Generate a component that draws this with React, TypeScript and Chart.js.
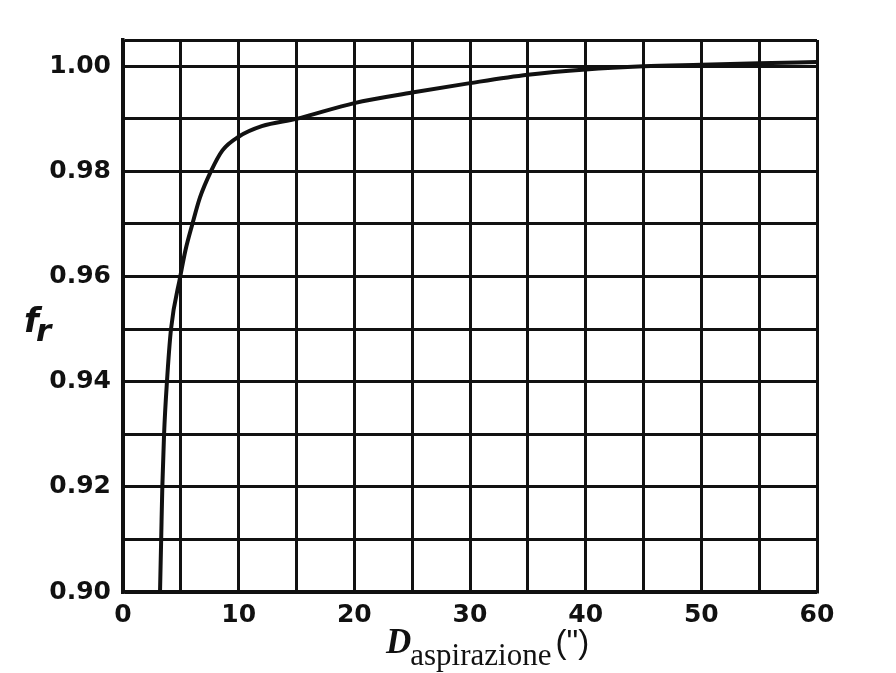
import React, { useEffect, useRef } from "react";
import { Chart, registerables } from "chart.js";

Chart.register(...registerables);

// D aspirazione (inches)
const diameterValues = [3.2, 3.3, 3.4, 3.55, 3.8, 4.15, 4.95, 5.4, 6.0, 6.65, 7.6, 8.6, 10, 12, 15, 20, 25, 30, 35, 40, 45, 50, 55, 60];
// f_r
const frValues = [0.9, 0.91, 0.92, 0.93, 0.94, 0.95, 0.96, 0.965, 0.97, 0.975, 0.98, 0.984, 0.9866, 0.9886, 0.99, 0.993, 0.995, 0.9968, 0.9984, 0.9994, 1.0, 1.0003, 1.0006, 1.0008];

const xMin = 0;
const xMax = 60;
const xStep = 5;
const xLabelEvery = 10;
const yMin = 0.9;
const yMax = 1.005;
// horizontal grid lines and the labelled ones
const yGridValues = [0.9, 0.91, 0.92, 0.93, 0.94, 0.95, 0.96, 0.97, 0.98, 0.99, 1.0, 1.005];
const yTickLabels = ["0.90", "", "0.92", "", "0.94", "", "0.96", "", "0.98", "", "1.00", ""];

const yTitleMain = "f";
const yTitleSub = "r";
const xTitleMain = "D";
const xTitleSub = "aspirazione";
const xTitleUnit = '(")';

const INK = "#111111";
const TICK_FONT = { family: '"DejaVu Sans", sans-serif', size: 25, weight: "bold" as const };

const titlePlugin = {
  id: "axisTitles",
  afterDraw(chart: any) {
    const ctx = chart.ctx as CanvasRenderingContext2D;
    const a = chart.chartArea;
    ctx.save();
    ctx.fillStyle = INK;
    ctx.textAlign = "left";
    ctx.textBaseline = "alphabetic";
    // y title: f_r
    const yMid = (a.top + a.bottom) / 2;
    ctx.font = 'italic bold 34px "DejaVu Sans"';
    ctx.fillText(yTitleMain, a.left - 99, yMid + 16);
    ctx.font = 'italic bold 31px "DejaVu Sans"';
    ctx.fillText(yTitleSub, a.left - 87, yMid + 25);
    // x title: D_aspirazione (")
    const base = a.bottom + 61;
    ctx.font = 'italic bold 35px "Liberation Serif"';
    ctx.fillText(xTitleMain, 386, base);
    const dW = ctx.measureText(xTitleMain).width;
    ctx.font = '31px "Liberation Serif"';
    ctx.fillText(xTitleSub, 386 + dW - 1, base + 12);
    const sW = ctx.measureText(xTitleSub).width;
    ctx.font = '33px "Liberation Sans"';
    ctx.fillText(xTitleUnit, 386 + dW + sW + 3, base);
    ctx.restore();
  },
};

export default function App() {
  const ref = useRef<HTMLCanvasElement | null>(null);
  useEffect(() => {
    if (!ref.current) return;
    const chart = new Chart(ref.current, {
      type: "line",
      data: {
        datasets: [
          {
            data: diameterValues.map((x, i) => ({ x, y: frValues[i] })),
            borderColor: INK,
            borderWidth: 4,
            pointRadius: 0,
            fill: false,
            cubicInterpolationMode: "monotone",
          },
        ],
      },
      options: {
        animation: false,
        responsive: false,
        layout: { padding: { top: 40, right: 79, left: 0, bottom: 0 } },
        plugins: { legend: { display: false }, tooltip: { enabled: false } },
        scales: {
          x: {
            type: "linear",
            min: xMin,
            max: xMax,
            afterFit: (s: any) => {
              s.height = 81;
            },
            ticks: {
              stepSize: xStep,
              autoSkip: false,
              maxRotation: 0,
              color: INK,
              font: TICK_FONT,
              padding: 8,
              callback: (v: any) => (Math.abs(v % xLabelEvery) < 1e-9 ? String(v) : ""),
            },
            grid: { color: INK, lineWidth: 3, drawTicks: false },
            border: { color: INK, width: 3.5 },
          },
          y: {
            type: "linear",
            min: yMin,
            max: yMax,
            afterFit: (s: any) => {
              s.width = 123;
            },
            afterBuildTicks: (s: any) => {
              s.ticks = yGridValues.map((value) => ({ value }));
            },
            ticks: {
              autoSkip: false,
              color: INK,
              font: TICK_FONT,
              padding: 12,
              callback: (_v: any, i: number) => yTickLabels[i] ?? "",
            },
            grid: { color: INK, lineWidth: 3, drawTicks: false },
            border: { color: INK, width: 3.5 },
          },
        },
      },
      plugins: [titlePlugin],
    } as any);
    return () => chart.destroy();
  }, []);
  return (
    <div style={{ position: "fixed", left: 0, top: 0, width: 896, height: 673, background: "#fff" }}>
      <canvas ref={ref} width={896} height={673} style={{ display: "block" }} />
    </div>
  );
}
